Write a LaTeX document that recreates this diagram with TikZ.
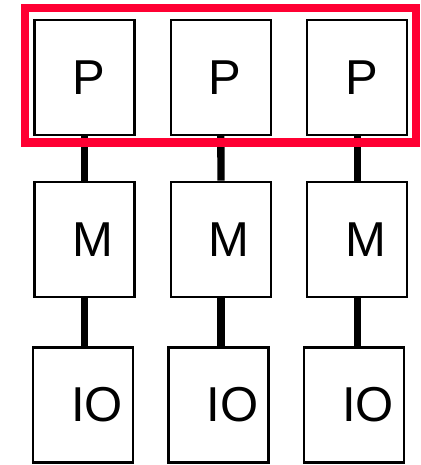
\documentclass[tikz,border=0pt]{standalone}
\usepackage{fontspec}
\setmainfont{Liberation Sans}
\definecolor{hl}{RGB}{255,0,51}
\begin{document}
\begin{tikzpicture}[x=1pt,y=-1pt,
  box/.style={draw=black, line width=2.5pt, minimum width=100pt, minimum height=115pt, inner sep=0pt, fill=white},
  lbl/.style={inner sep=0pt, font=\fontsize{49}{49}\selectfont},
  link/.style={line width=7.3pt, black},
  group/.style={draw=hl, line width=8.5pt}]
\useasboundingbox (0,0) rectangle (420,465);
% processors
\node[box] (p1) at (84.7,77.3) {};
\node[box] (p2) at (220.8,77.3) {};
\node[box] (p3) at (357.2,77.3) {};
% memories
\node[box] (m1) at (84.7,239.3) {};
\node[box] (m2) at (221,239.3) {};
\node[box] (m3) at (357.2,239.3) {};
% io
\node[box] (io1) at (82.9,405) {};
\node[box] (io2) at (218.3,405) {};
\node[box] (io3) at (354.2,405) {};
% labels
\foreach \n in {p1,p2,p3}{\node[lbl] (\n t) at ([xshift=4.3pt]\n.center) {P};}
\foreach \n in {m1,m2,m3}{\node[lbl] (\n t) at ([xshift=8.3pt]\n.center) {M};}
\foreach \n in {io1,io2,io3}{\node[lbl] (\n t) at ([xshift=14pt]\n.center) {IO};}
% links
\draw[link] (p1.south) -- (m1.north);
\draw[link] (p2.south) -- (m2.north);
\draw[link] (p3.south) -- (m3.north);
\draw[link] (m1.south) -- (m1.south |- io1.north);
\draw[link] (m2.south) -- (m2.south |- io2.north);
\draw[link] (m3.south) -- (m3.south |- io3.north);
% highlight group
\draw[group] (25,8) rectangle (416,142.5);
\end{tikzpicture}
\end{document}
